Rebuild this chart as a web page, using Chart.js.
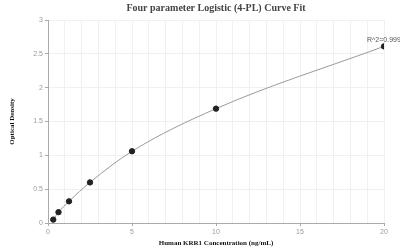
<!DOCTYPE html>
<html><head><meta charset="utf-8">
<script src="https://cdn.jsdelivr.net/npm/chart.js@4/dist/chart.umd.min.js"></script>
<style>html,body{margin:0;padding:0;background:#fff}#w{width:400px;height:252px}</style>
</head><body><div id="w"><canvas id="c"></canvas></div>
<script>
const concentrations = [0.3125, 0.625, 1.25, 2.5, 5, 10, 20];
const densities = [0.05, 0.16, 0.32, 0.60, 1.06, 1.69, 2.61];
const xTickLabels = [0, 5, 10, 15, 20];
const yTickLabels = [0, 0.5, 1, 1.5, 2, 2.5, 3];
const rSquaredLabel = 'R^2=0.9999';
const titleText = 'Four parameter Logistic (4-PL) Curve Fit';
const xTitle = 'Human KRR1 Concentration (ng/mL)';
const yTitle = 'Optical Density';

const pts = concentrations.map((x, i) => ({x, y: densities[i]}));

const r2Plugin = {
  id: 'r2',
  afterDatasetsDraw(chart) {
    const meta = chart.getDatasetMeta(0);
    const last = meta.data[meta.data.length - 1];
    const ctx = chart.ctx;
    ctx.save();
    ctx.font = '7px "Liberation Sans", Arial, sans-serif';
    ctx.fillStyle = '#555';
    ctx.textAlign = 'left';
    ctx.textBaseline = 'bottom';
    ctx.fillText(rSquaredLabel, last.x - 17, last.y - 3);
    ctx.restore();
  }
};

new Chart(document.getElementById('c'), {
  type: 'scatter',
  data: {
    datasets: [{
      data: pts,
      showLine: true,
      cubicInterpolationMode: 'monotone',
      borderColor: '#9a9a9a',
      borderWidth: 1,
      pointBackgroundColor: '#222',
      pointBorderColor: '#222',
      pointRadius: 2.7,
      pointHoverRadius: 2.7
    }]
  },
  options: {
    responsive: true,
    maintainAspectRatio: false,
    animation: false,
    events: [],
    layout: { padding: { left: 0, right: 16, top: 0, bottom: 0 } },
    plugins: {
      legend: { display: false },
      tooltip: { enabled: false },
      title: {
        display: true,
        fullSize: false,
        text: titleText,
        color: '#444',
        font: { family: '"Liberation Serif", "Times New Roman", serif', size: 10, weight: 'bold', lineHeight: 1.2 },
        padding: { top: 2, bottom: 6 }
      }
    },
    scales: {
      x: {
        type: 'linear',
        min: 0, max: 20,
        afterFit(s) { s.height = 29; },
        ticks: {
          stepSize: 1,
          autoSkip: false,
          maxRotation: 0,
          color: '#999',
          padding: 2,
          font: { family: '"Liberation Sans", Arial, sans-serif', size: 7 },
          callback: v => xTickLabels.includes(v) ? String(v) : ''
        },
        grid: {
          color: '#eef0f6',
          lineWidth: 1,
          tickLength: 3,
          tickColor: ctx => (ctx.tick && xTickLabels.includes(ctx.tick.value)) ? '#aaa' : 'rgba(0,0,0,0)'
        },
        border: { color: '#aaa', width: 1 },
        title: {
          display: true,
          text: xTitle,
          color: '#111',
          font: { family: '"Liberation Serif", "Times New Roman", serif', size: 7, weight: 'bold' },
          padding: { top: 2, bottom: 5 }
        }
      },
      y: {
        type: 'linear',
        min: 0, max: 3,
        afterFit(s) { s.width = 48; },
        afterBuildTicks(s) { s.ticks = yTickLabels.map(v => ({value: v})); },
        ticks: {
          color: '#999',
          padding: 2,
          font: { family: '"Liberation Sans", Arial, sans-serif', size: 7 },
          callback: v => String(v)
        },
        grid: { color: '#eef0f6', lineWidth: 1, tickLength: 3, tickColor: '#aaa' },
        border: { color: '#aaa', width: 1 },
        title: {
          display: true,
          text: yTitle,
          color: '#111',
          font: { family: '"Liberation Serif", "Times New Roman", serif', size: 7, weight: 'bold' },
          padding: { top: 8, bottom: 4 }
        }
      }
    }
  },
  plugins: [r2Plugin]
});
</script></body></html>
